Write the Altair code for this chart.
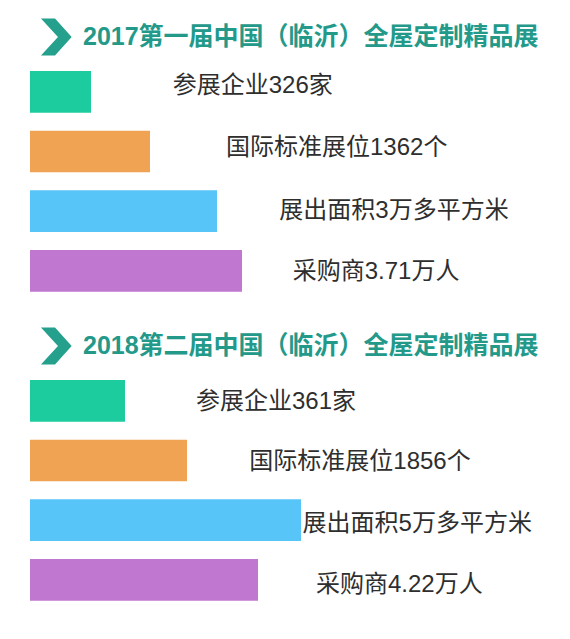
import altair as alt
import pandas as pd

# ---------------- data ----------------
years = ["2017", "2018"]
titles = ["2017第一届中国（临沂）全屋定制精品展", "2018第二届中国（临沂）全屋定制精品展"]
metrics = ["参展企业", "国际标准展位", "展出面积", "采购商"]
labels_2017 = ["参展企业326家", "国际标准展位1362个", "展出面积3万多平方米", "采购商3.71万人"]
labels_2018 = ["参展企业361家", "国际标准展位1856个", "展出面积5万多平方米", "采购商4.22万人"]
bar_2017 = [61, 120, 187, 212]   # bar lengths
bar_2018 = [95, 157, 271, 228]

# ---------------- layout / style ----------------
colors = ["#1ccc9e", "#f0a453", "#58c5f8", "#bf77cf"]
title_color = "#23998a"
text_color = "#2e2e2e"
font = "Liberation Sans, Noto Sans CJK SC, sans-serif"
group_gap = 5.176            # rows between the two sections
label_indent = [142.7, 196.0, 249.3, 262.7]
label_shift = [0.0, 23.3]
label_dy = [[-6, -3, 0, 1], [1, 2, 4, 5]]
half_bar = 0.349

rows = []
for g, (labs, vals) in enumerate([(labels_2017, bar_2017), (labels_2018, bar_2018)]):
    for k in range(4):
        slot = g * group_gap + k + 1
        rows.append({
            "year": years[g], "metric": metrics[k], "label": labs[k],
            "x0": 0, "x1": vals[k],
            "y0": slot - half_bar, "y1": slot + half_bar,
            "lx": label_indent[k] + label_shift[g],
            "ly": slot + label_dy[g][k] / 59.7,
        })
df = pd.DataFrame(rows)

head = pd.DataFrame({
    "year": years,
    "title": titles,
    "slot": [g * group_gap for g in range(2)],
    "tx": [53, 53],
    "cx": [26.3, 26.3],
})

xs = alt.Scale(domain=[-22, 532], nice=False, zero=False)
ys = alt.Scale(domain=[-0.4037, 10.032], nice=False, zero=False, reverse=True)
X = lambda f: alt.X(f, type="quantitative", scale=xs, axis=None)
Y = lambda f: alt.Y(f, type="quantitative", scale=ys, axis=None)

bars = alt.Chart(df).mark_rect().encode(
    x=X("x0"), x2="x1", y=Y("y0"), y2="y1",
    color=alt.Color("metric:N", scale=alt.Scale(domain=metrics, range=colors), legend=None),
)

labels = alt.Chart(df).mark_text(
    align="left", baseline="middle", font=font, fontSize=24, color=text_color
).encode(x=X("lx"), y=Y("ly"), text="label:N")

title_text = alt.Chart(head).mark_text(
    align="left", baseline="middle", font=font, fontSize=25,
    fontWeight="bold", color=title_color, dy=5
).encode(x=X("tx"), y=Y("slot"), text="title:N")

chevron_path = "M -0.83 -1 L -0.07 -1 L 0.83 0 L -0.07 1 L -0.83 1 L 0.09 0 Z"
chevron = alt.Chart(head).mark_point(
    shape=chevron_path, size=1369, filled=True, opacity=1, color="#25a08d",
    strokeWidth=0, yOffset=5
).encode(x=X("cx"), y=Y("slot"))

chart = alt.layer(bars, labels, chevron, title_text).properties(
    width=554, height=623, padding=0, autosize=alt.AutoSizeParams(type="none"),
    background="white"
).configure_view(stroke=None)

chart.save("out.html", embed_options={"renderer": "svg", "actions": False})
